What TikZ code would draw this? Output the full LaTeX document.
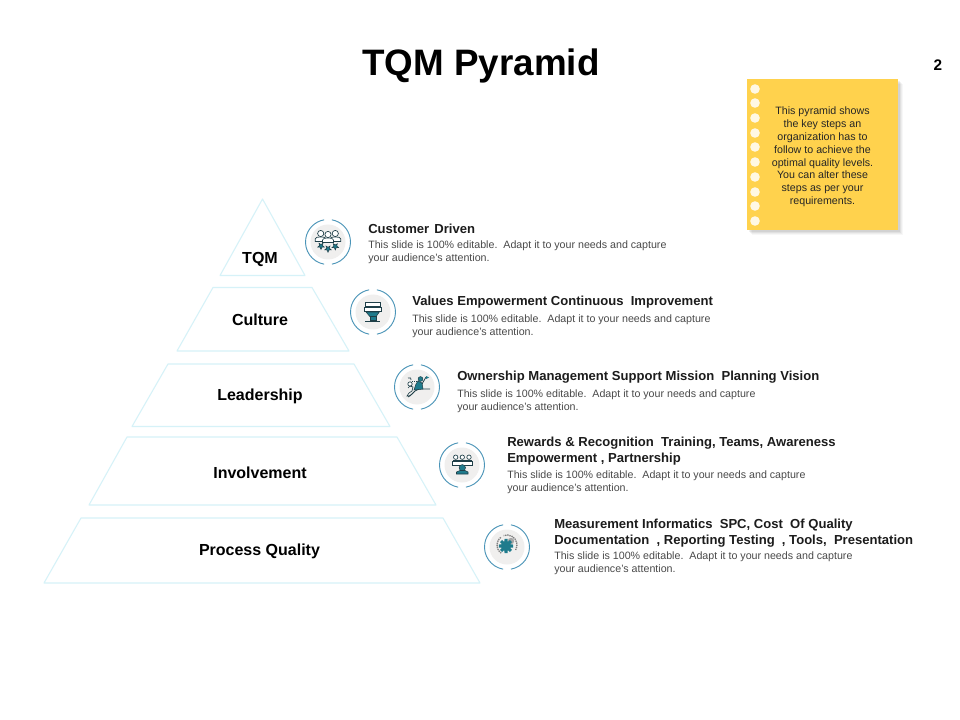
\documentclass[tikz,border=0pt]{standalone}
\usepackage{fontspec}
\setmainfont{Liberation Sans}
\usetikzlibrary{shapes.geometric}
\definecolor{tierline}{HTML}{D6F2F8}
\definecolor{ringblue}{HTML}{4A94B8}
\definecolor{discgray}{HTML}{F0EFEE}
\definecolor{iconteal}{HTML}{1F7B8C}
\definecolor{icondark}{HTML}{1F3F48}
\definecolor{noteyellow}{HTML}{FFD24D}
\definecolor{bodygray}{HTML}{4A4A4A}
\definecolor{headdark}{HTML}{1C1C1C}
\tikzset{
  x=0.75pt,y=-0.75pt,
  tier/.style={draw=tierline,line width=0.8pt,fill=white,line join=round},
  tierlabel/.style={font=\bfseries\fontsize{12}{14}\selectfont,text=black,inner sep=0pt},
  headtext/.style={font=\bfseries\fontsize{9.8}{12}\selectfont,text=headdark,inner sep=0pt,anchor=west,align=left},
  bodytext/.style={font=\fontsize{8}{9.75}\selectfont,text=bodygray,inner sep=0pt,anchor=west,align=left},
  notetext/.style={font=\fontsize{8}{9.6}\selectfont,text=black!85,inner sep=0pt,align=center},
  iconline/.style={draw=icondark,line width=0.5pt,fill=white},
  iconfill/.style={fill=iconteal,draw=icondark,line width=0.4pt},
  ringdisc/.pic={
    \fill[discgray] (0,0) circle[radius=17.5];
    \draw[ringblue,line width=0.7pt] (80:22.5) arc[start angle=80,end angle=-80,radius=22.5];
    \draw[ringblue,line width=0.7pt] (100:22.5) arc[start angle=100,end angle=260,radius=22.5];
  }
}
\newcommand{\tqmstar}[3]{\fill[iconfill] ([shift={(#1,#2)}]90:#3) -- ([shift={(#1,#2)}]126:#3*0.45) -- ([shift={(#1,#2)}]162:#3) -- ([shift={(#1,#2)}]198:#3*0.45) -- ([shift={(#1,#2)}]234:#3) -- ([shift={(#1,#2)}]270:#3*0.45) -- ([shift={(#1,#2)}]306:#3) -- ([shift={(#1,#2)}]342:#3*0.45) -- ([shift={(#1,#2)}]18:#3) -- ([shift={(#1,#2)}]54:#3*0.45) -- cycle;}
\newcommand{\tqmperson}[2]{\draw[iconline] (#1-5.5,#2+8) -- (#1-5.5,#2+5.5) .. controls (#1-5.5,#2+4) and (#1-3,#2+3.4) .. (#1,#2+3.4) .. controls (#1+3,#2+3.4) and (#1+5.5,#2+4) .. (#1+5.5,#2+5.5) -- (#1+5.5,#2+8) -- cycle; \draw[iconline] (#1,#2) circle[radius=3.1];}
\begin{document}
\begin{tikzpicture}
\useasboundingbox (0,0) rectangle (960,720);
\fill[white] (0,0) rectangle (960,720);

% title and page number
\node[inner sep=0pt,font=\bfseries\fontsize{27.6}{32}\selectfont] (title) at (481,65.5) {TQM Pyramid};
\node[inner sep=0pt,font=\bfseries\fontsize{11.5}{14}\selectfont] (pageno) at (938,65) {2};

% sticky note
\foreach \d/\o in {5/0.03,4/0.04,3/0.05,2/0.06}{
  \fill[black,opacity=\o] (747+\d,79+\d) rectangle (898+\d,230+\d);
}
\fill[noteyellow] (747,79) rectangle (898,230);
\foreach \yy in {89,103,118,133,147,162,177,192,206,221}{
  \fill[white,opacity=0.85] (755,\yy) circle[radius=4.8];
}
\node[notetext] (note) at (822.5,157) {This pyramid shows\\the key steps an\\organization has to\\follow to achieve the\\optimal quality levels.\\You can alter these\\steps as per your\\requirements.};

% pyramid tiers
\draw[tier] (262.5,199) -- (305,275.5) -- (220,275.5) -- cycle;
\draw[tier] (213,287.5) -- (312,287.5) -- (349,351) -- (177,351) -- cycle;
\draw[tier] (168,364) -- (354,364) -- (390,426.5) -- (132,426.5) -- cycle;
\draw[tier] (127,437) -- (397,437) -- (436,505) -- (89,505) -- cycle;
\draw[tier] (81,518) -- (443,518) -- (480,583) -- (44,583) -- cycle;
\node[tierlabel] (tqm) at (260,259) {TQM};
\node[tierlabel] (culture) at (260,319.5) {Culture};
\node[tierlabel] (leadership) at (260,396.5) {Leadership};
\node[tierlabel] (involvement) at (260,472.5) {Involvement};
\node[tierlabel] (process) at (259.5,551) {Process Quality};

% icon 1: customers
\begin{scope}[shift={(328,242)}]
  \pic {ringdisc};
  \tqmperson{-7.3}{-8.5}
  \tqmperson{7.3}{-8.5}
  \tqmperson{0}{-7.5}
  \tqmstar{-7}{4}{3.4}
  \tqmstar{0}{6.8}{3.4}
  \tqmstar{7.3}{4.5}{3.4}
\end{scope}

% icon 2: pedestal
\begin{scope}[shift={(373,312)}]
  \pic {ringdisc};
  \draw[iconline] (-8,-9.3) rectangle (7.7,-6);
  \draw[iconline] (-9,-4.3) rectangle (8.7,-0.3);
  \fill[iconfill] (-7,0) -- (6.3,0) -- (3,4.7) -- (-3,4.7) -- cycle;
  \draw[iconline,fill=iconteal] (-3,4.7) rectangle (3,8.6);
  \fill[icondark] (-8,8.7) rectangle (6.5,9.8);
\end{scope}

% icon 3: climbing figures
\begin{scope}[shift={(417,387)}]
  \pic {ringdisc};
  \draw[icondark,line width=0.6pt] (-9,10) -- (-5,7) -- (-2,4) -- (2,2) -- (13,2);
  \fill[iconfill] (-3,3) -- (-1,-3) -- (1,-6) -- (5,-4) -- (6,2) -- cycle;
  \fill[iconfill] (3.5,-8) circle[radius=2.4];
  \draw[icondark,line width=0.6pt] (5,-3) -- (9,-10);
  \fill[iconteal] (9,-11) -- (12,-9.5) -- (9,-8) -- cycle;
  \draw[iconline] (-7,-3) circle[radius=2.2];
  \draw[iconline,fill=none] (-9,1) -- (-7,-1) -- (-4,0) -- (-5,4) -- (-8,6) -- (-10,9) -- (-7,9) -- (-3,5);
  \draw[icondark,line width=0.5pt] (-9,-9) .. controls (-7,-10) and (-5,-9) .. (-6,-7);
  \draw[icondark,line width=0.5pt,densely dotted] (-5,-6) -- (0,-6);
\end{scope}

% icon 4: meeting
\begin{scope}[shift={(462,465)}]
  \pic {ringdisc};
  \foreach \xx in {-6.3,0.3,7}{
    \draw[iconline] (\xx,-7.8) circle[radius=2.2];
    \draw[iconline] (\xx-2.8,-4) -- (\xx-2.8,-5) -- (\xx+2.8,-5) -- (\xx+2.8,-4);
  }
  \draw[iconline] (-9.3,-4) rectangle (10,0);
  \fill[iconfill] (0.3,2.8) circle[radius=3.2];
  \fill[iconfill] (-5.5,9) -- (-5.5,7) -- (-2,5.5) -- (3,5.5) -- (6,7) -- (6,9) -- cycle;
\end{scope}

% icon 5: gears
\begin{scope}[shift={(507,547)}]
  \pic {ringdisc};
  \draw[gray,line width=1pt,dash pattern=on 1pt off 0.6pt] (0,-2) ++(30:10) arc[start angle=30,end angle=-110,radius=10];
  \draw[gray,line width=1pt,dash pattern=on 1pt off 0.6pt] (0,-2) ++(125:10) arc[start angle=125,end angle=235,radius=10];
  \fill[gray!70] (4,-6) circle[radius=3.2];
  \foreach \a in {0,45,...,315}{
    \fill[iconteal] ([shift={(-1,-1)}]\a-12:7.2) -- ([shift={(-1,-1)}]\a+12:7.2) -- ([shift={(-1,-1)}]\a+20:4.5) -- ([shift={(-1,-1)}]\a-20:4.5) -- cycle;
  }
  \fill[iconteal] (-1,-1) circle[radius=5.2];
\end{scope}

% texts
\node[headtext] (h1) at (368,228.5) {Customer\ \hspace{0.12em}Driven};
\node[bodytext] (b1) at (368,252.5) {This slide is 100\% editable.\ \ Adapt it to your needs and capture\\your audience's attention.};
\node[headtext] (h2) at (412,302.5) {Values Empowerment Continuous\ \ Improvement};
\node[bodytext] (b2) at (412,326.5) {This slide is 100\% editable.\ \ Adapt it to your needs and capture\\your audience's attention.};
\node[headtext] (h3) at (457,377.5) {Ownership Management Support Mission\ \ Planning Vision};
\node[bodytext] (b3) at (457,401.5) {This slide is 100\% editable.\ \ Adapt it to your needs and capture\\your audience's attention.};
\node[headtext] (h4) at (507,451.5) {Rewards \& Recognition\ \ Training, Teams, Awareness\\Empowerment , Partnership};
\node[bodytext] (b4) at (507,482.5) {This slide is 100\% editable.\ \ Adapt it to your needs and capture\\your audience's attention.};
\node[headtext] (h5) at (554,533.5) {Measurement Informatics\ \ SPC, Cost\ \ Of Quality\\Documentation\ \ , Reporting Testing\ \ , Tools,\ \ Presentation};
\node[bodytext] (b5) at (554,563.5) {This slide is 100\% editable.\ \ Adapt it to your needs and capture\\your audience's attention.};
\end{tikzpicture}
\end{document}
